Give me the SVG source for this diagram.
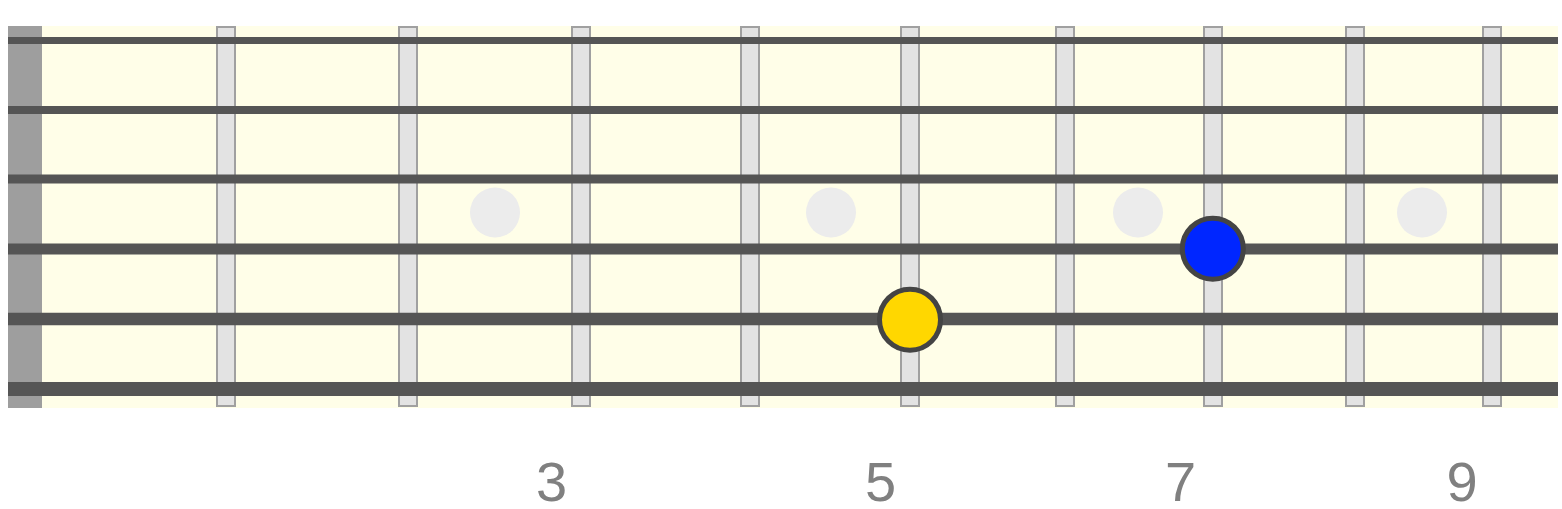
<svg xmlns="http://www.w3.org/2000/svg" width="1562" height="509" viewBox="0 0 1562 509">
<style>
.fret{fill:#e3e3e3;stroke:#a0a0a0;stroke-width:2}
.str{stroke:#555555}
.inlay{fill:#ececec}
.note{stroke:#444444;stroke-width:5}
.lbl{font-family:"Liberation Sans",Arial,sans-serif;font-size:56px;fill:#808080;text-anchor:middle}
</style>
<rect width="1562" height="509" fill="#ffffff"/>
<g id="board">
<rect x="8" y="26" width="1550" height="382" fill="#fffee8"/>
<rect x="8" y="26" width="34" height="382" fill="#9e9e9e"/>
</g>
<g id="frets">
<rect class="fret" x="217" y="27" width="18" height="379"/>
<rect class="fret" x="399" y="27" width="18" height="379"/>
<rect class="fret" x="572" y="27" width="18" height="379"/>
<rect class="fret" x="741" y="27" width="18" height="379"/>
<rect class="fret" x="901" y="27" width="18" height="379"/>
<rect class="fret" x="1056" y="27" width="18" height="379"/>
<rect class="fret" x="1204" y="27" width="18" height="379"/>
<rect class="fret" x="1346" y="27" width="18" height="379"/>
<rect class="fret" x="1483" y="27" width="18" height="379"/>
</g>
<g id="inlays">
<circle class="inlay" cx="495" cy="212.5" r="25"/>
<circle class="inlay" cx="831" cy="212.5" r="25"/>
<circle class="inlay" cx="1138" cy="212.5" r="25"/>
<circle class="inlay" cx="1422" cy="212.5" r="25"/>
</g>
<g id="strings">
<line class="str" x1="8" y1="40.5" x2="1558" y2="40.5" stroke-width="7"/>
<line class="str" x1="8" y1="110" x2="1558" y2="110" stroke-width="8"/>
<line class="str" x1="8" y1="179" x2="1558" y2="179" stroke-width="9"/>
<line class="str" x1="8" y1="249" x2="1558" y2="249" stroke-width="11"/>
<line class="str" x1="8" y1="319" x2="1558" y2="319" stroke-width="12.5"/>
<line class="str" x1="8" y1="389" x2="1558" y2="389" stroke-width="14"/>
</g>
<g id="note-yellow">
<circle class="note" cx="910" cy="319.7" r="30.5" fill="#ffd700"/>
</g>
<g id="note-blue">
<circle class="note" cx="1212.8" cy="248.7" r="30.5" fill="#0026ff"/>
</g>
<g id="labels">
<text class="lbl" x="551.5" y="501">3</text>
<text class="lbl" x="880.5" y="501">5</text>
<text class="lbl" x="1180.5" y="501">7</text>
<text class="lbl" x="1462" y="501">9</text>
</g>
</svg>
